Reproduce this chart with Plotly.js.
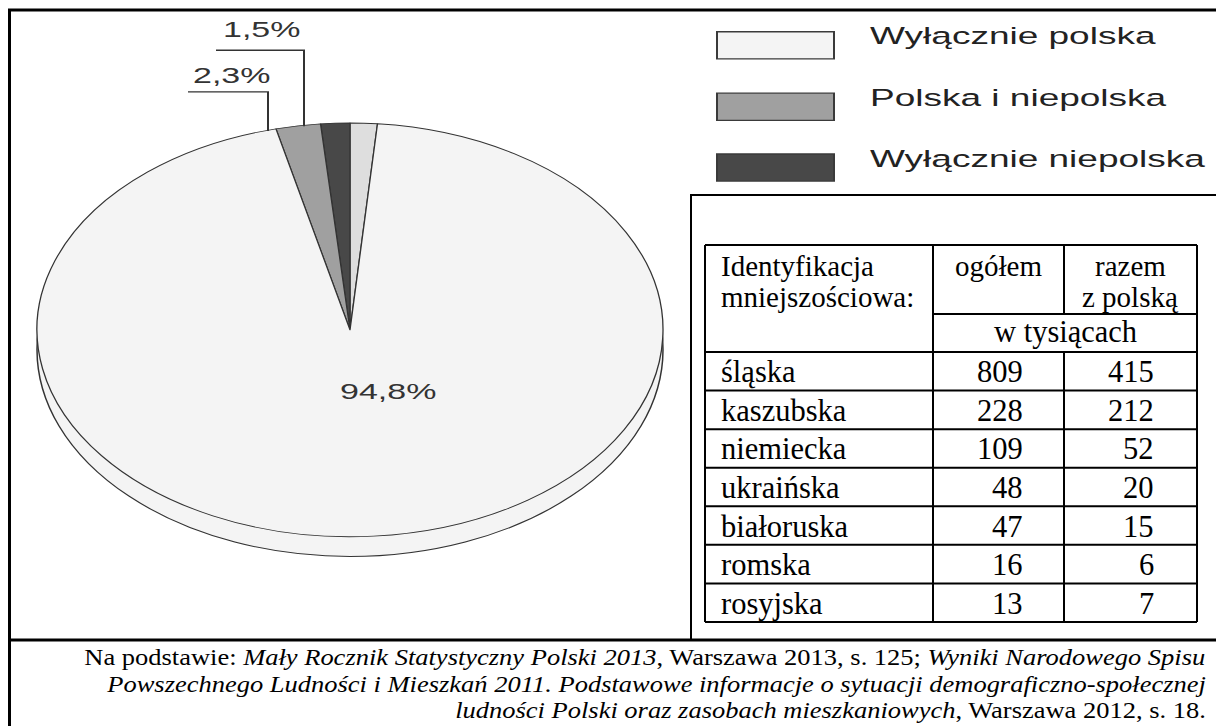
<!DOCTYPE html>
<html><head><meta charset="utf-8">
<script src="https://cdn.plot.ly/plotly-3.0.1.min.js"></script>
<style>
html,body{margin:0;padding:0;overflow:hidden;background:#fff;}
#wrap{position:relative;width:1216px;height:726px;overflow:hidden;}
#frame{position:absolute;left:0;top:0;width:1216px;height:726px;}
#chart{position:absolute;left:0;top:0;width:1216px;height:1098px;transform:scaleY(0.661);transform-origin:0 0;}
#source{position:absolute;left:0;top:641px;width:1216px;height:100px;transform:scaleY(0.86);transform-origin:0 0;}
</style></head><body>
<div id="wrap"><div id="frame"></div><div id="chart"></div><div id="source"></div></div>
<script>
// ---- data ----
const sliceLabels = ['nieustalona', 'Wyłącznie niepolska', 'Polska i niepolska', 'Wyłącznie polska'];
const sliceValues = [1.4, 1.5, 2.3, 94.8];
const sliceColors = ['#dedede', '#484848', '#a0a0a0', '#f4f4f4'];
const sliceText = ['', '1,5%', '2,3%', '94,8%'];

const legendLabels = ['Wyłącznie polska', 'Polska i niepolska', 'Wyłącznie niepolska'];
const legendColors = ['#f4f4f4', '#a0a0a0', '#484848'];

const headerCol1 = ['Identyfikacja', 'mniejszościowa:'];
const headerCol2 = ['ogółem'];
const headerCol3 = ['razem', 'z polską'];
const unitLabel = 'w tysiącach';
const minorities = ['śląska', 'kaszubska', 'niemiecka', 'ukraińska', 'białoruska', 'romska', 'rosyjska'];
const totalThousands = [809, 228, 109, 48, 47, 16, 13];
const withPolishThousands = [415, 212, 52, 20, 15, 6, 7];

const sourceLines = [
  'Na podstawie: <i>Mały Rocznik Statystyczny Polski 2013</i>, Warszawa 2013, s. 125; <i>Wyniki Narodowego Spisu</i>',
  '<i>Powszechnego Ludności i Mieszkań 2011. Podstawowe informacje o sytuacji demograficzno-społecznej</i>',
  '<i>ludności Polski oraz zasobach mieszkaniowych</i>, Warszawa 2012, s. 18.'
];

// ---- frame and table (unscaled) ----
const W = 1216, H = 726;
const serif = 'Liberation Serif, Times New Roman, serif';
const sans = 'Liberation Sans, Arial, sans-serif';

const shapesA = [];
const annA = [];
function line(arr, x0, y0, x1, y1, w, c) {
  arr.push({type: 'line', xref: 'x', yref: 'y', x0: x0, y0: y0, x1: x1, y1: y1,
            line: {color: c || '#000', width: w}});
}
// outer frame
line(shapesA, 8, 10, W, 10, 3);
line(shapesA, 9.5, 9, 9.5, H, 3);
line(shapesA, 691, 195, 691, 640, 2);
line(shapesA, 690, 195, W, 195, 2);
line(shapesA, 8, 640, W, 640, 3);

// table grid
const colX = [705, 933, 1064, 1197];
const tTop = 245, hSplit = 314, unitBottom = 352, tBottom = 622;
const rowH = (tBottom - unitBottom) / minorities.length;
line(shapesA, colX[0], tTop, colX[3], tTop, 2);
line(shapesA, colX[1], hSplit, colX[3], hSplit, 2);
line(shapesA, colX[0], unitBottom, colX[3], unitBottom, 2);
minorities.forEach((m, i) => line(shapesA, colX[0], unitBottom + rowH * (i + 1), colX[3], unitBottom + rowH * (i + 1), 2));
line(shapesA, colX[0], tTop, colX[0], tBottom, 2);
line(shapesA, colX[1], tTop, colX[1], tBottom, 2);
line(shapesA, colX[3], tTop, colX[3], tBottom, 2);
line(shapesA, colX[2], tTop, colX[2], hSplit, 2);
line(shapesA, colX[2], unitBottom, colX[2], tBottom, 2);

const hFont = {family: serif, size: 29, color: '#000'};
const tFont = {family: serif, size: 30.5, color: '#000'};
function txt(arr, s, x, y, xa, font) {
  arr.push({text: s, x: x, y: y, xref: 'x', yref: 'y', xanchor: xa, yanchor: 'middle',
            showarrow: false, font: font});
}
const hLine1 = 266, hLine2 = 297;
headerCol1.forEach((s, i) => txt(annA, s, colX[0] + 14, i ? hLine2 : hLine1, 'left', hFont));
headerCol2.forEach((s, i) => txt(annA, s, (colX[1] + colX[2]) / 2, i ? hLine2 : hLine1, 'center', hFont));
headerCol3.forEach((s, i) => txt(annA, s, (colX[2] + colX[3]) / 2, i ? hLine2 : hLine1, 'center', hFont));
txt(annA, unitLabel, (colX[1] + colX[3]) / 2, (hSplit + unitBottom) / 2 - 1, 'center', tFont);
minorities.forEach((m, i) => {
  const yc = unitBottom + rowH * (i + 0.5) + 1;
  txt(annA, m, colX[0] + 14, yc, 'left', tFont);
  txt(annA, String(totalThousands[i]), colX[2] - 39, yc, 'right', tFont);
  txt(annA, String(withPolishThousands[i]), colX[3] - 41, yc, 'right', tFont);
});

Plotly.newPlot('frame', [], {
  width: W, height: H, margin: {l: 0, r: 0, t: 0, b: 0},
  paper_bgcolor: '#fff', plot_bgcolor: '#fff',
  xaxis: {range: [0, W], visible: false, fixedrange: true},
  yaxis: {range: [H, 0], visible: false, fixedrange: true},
  shapes: shapesA, annotations: annA, showlegend: false
}, {staticPlot: true});

// ---- source note (slightly condensed vertically, like the scan) ----
const annS = [];
const srcFont = {family: serif, size: 26.5, color: '#000'};
sourceLines.forEach((s, i) => txt(annS, s, 1208, 19 + 30.8 * i, 'right', srcFont));
Plotly.newPlot('source', [], {
  width: W, height: 100, margin: {l: 0, r: 0, t: 0, b: 0},
  paper_bgcolor: 'rgba(0,0,0,0)', plot_bgcolor: 'rgba(0,0,0,0)',
  xaxis: {range: [0, W], visible: false, fixedrange: true},
  yaxis: {range: [100, 0], visible: false, fixedrange: true},
  annotations: annS, showlegend: false
}, {staticPlot: true});

// ---- pie chart graphic (drawn in a vertically squashed layer) ----
const S = 0.661;
const HB = Math.round(H / S);
const cx = 350, cy = 499, r = 313, depth = 30;
function dom(yShift) {
  return {x: [(cx - r) / W, (cx + r) / W],
          y: [1 - (cy + r + yShift) / HB, 1 - (cy - r + yShift) / HB]};
}
const sidePie = {
  type: 'pie', labels: ['bok'], values: [sliceValues.reduce((a, b) => a + b, 0)],
  marker: {colors: [sliceColors[3]], line: {color: '#333', width: 1.5}},
  textinfo: 'none', hoverinfo: 'skip', showlegend: false, sort: false,
  domain: dom(depth)
};
const topPie = {
  type: 'pie', labels: sliceLabels, values: sliceValues,
  marker: {colors: sliceColors, line: {color: '#333', width: 1.3}},
  textinfo: 'none', hoverinfo: 'skip', showlegend: false, sort: false,
  direction: 'counterclockwise', rotation: 0,
  domain: dom(0)
};

const shapesB = [];
const annB = [];
const lblFont = {family: sans, size: 34, color: '#333'};
txt(annB, sliceText[3], 388, 592, 'center', lblFont);
txt(annB, sliceText[1], 262, 44, 'center', lblFont);
txt(annB, sliceText[2], 232, 113, 'center', lblFont);
shapesB.push({type: 'path', xref: 'x', yref: 'y', path: 'M216,76 H304 V191',
              line: {color: '#333', width: 2}});
shapesB.push({type: 'path', xref: 'x', yref: 'y', path: 'M188,139 H268 V198',
              line: {color: '#333', width: 2}});

const legTop = [48, 141, 233], legH = 41;
const legFont = {family: sans, size: 37, color: '#222'};
legendLabels.forEach((s, i) => {
  shapesB.push({type: 'rect', xref: 'x', yref: 'y', x0: 717, x1: 834, y0: legTop[i], y1: legTop[i] + legH,
                fillcolor: legendColors[i], line: {color: '#3a3a3a', width: 2}});
  txt(annB, s, 868, legTop[i] + legH / 2 - 14, 'left', legFont);
});

Plotly.newPlot('chart', [sidePie, topPie], {
  width: W, height: HB, margin: {l: 0, r: 0, t: 0, b: 0},
  paper_bgcolor: 'rgba(0,0,0,0)', plot_bgcolor: 'rgba(0,0,0,0)',
  xaxis: {range: [0, W], visible: false, fixedrange: true},
  yaxis: {range: [HB, 0], visible: false, fixedrange: true},
  shapes: shapesB, annotations: annB, showlegend: false
}, {staticPlot: true});
</script>
</body></html>
